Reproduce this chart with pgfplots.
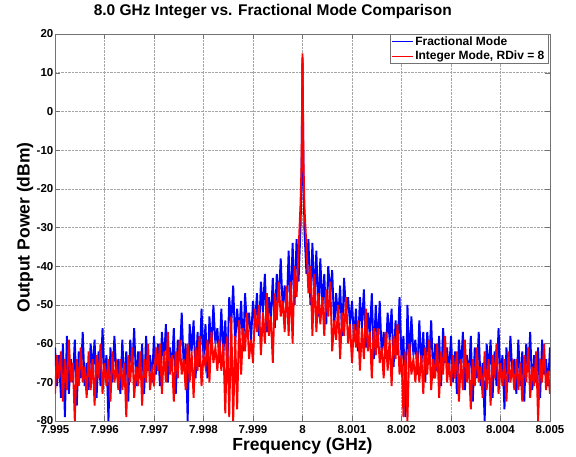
\documentclass[border=0pt]{standalone}
\usepackage{fontspec}
\setmainfont{Liberation Sans}
\usepackage{pgfplots}
\usepackage{pgfplotstable}
\pgfplotsset{compat=1.18}
\pgfplotstableread{
f frac int
7.99500 -61 -73
7.99504 -71 -63
7.99508 -63 -69
7.99512 -74 -62
7.99516 -60 -75
7.99520 -79 -64
7.99524 -58 -72
7.99528 -73 -59
7.99532 -64 -70
7.99536 -70 -65
7.99540 -59 -80
7.99544 -76 -64
7.99548 -62 -71
7.99552 -69 -61
7.99556 -57 -70
7.99560 -71 -66
7.99564 -65 -74
7.99568 -72 -62
7.99572 -60 -72
7.99576 -67 -64
7.99580 -59 -76
7.99584 -74 -63
7.99588 -62 -69
7.99592 -71 -60
7.99596 -56 -73
7.99600 -69 -65
7.99604 -63 -71
7.99608 -80 -64
7.99612 -61 -75
7.99616 -70 -62
7.99620 -58 -70
7.99624 -68 -66
7.99628 -64 -72
7.99632 -73 -64
7.99636 -59 -72
7.99640 -71 -65
7.99644 -62 -79
7.99648 -75 -63
7.99652 -59 -70
7.99656 -66 -61
7.99660 -56 -74
7.99664 -71 -66
7.99668 -62 -71
7.99672 -69 -62
7.99676 -60 -76
7.99680 -73 -64
7.99684 -58 -70
7.99688 -67 -60
7.99692 -63 -72
7.99696 -70 -67
7.99700 -58 -71
7.99704 -68 -61
7.99708 -60 -67
7.99712 -71 -60
7.99716 -57 -73
7.99720 -65 -62
7.99724 -55 -70
7.99728 -70 -57
7.99732 -61 -68
7.99736 -67 -63
7.99740 -56 -75
7.99744 -73 -62
7.99748 -59 -69
7.99752 -64 -59
7.99756 -52 -68
7.99760 -66 -64
7.99764 -60 -72
7.99768 -80 -60
7.99772 -55 -70
7.99776 -62 -62
7.99780 -54 -74
7.99784 -69 -61
7.99788 -57 -67
7.99792 -66 -58
7.99796 -51 -71
7.99800 -64 -63
7.99804 -55 -66
7.99808 -69 -59
7.99812 -53 -70
7.99816 -62 -57
7.99820 -50 -65
7.99824 -60 -61
7.99828 -56 -67
7.99832 -65 -59
7.99836 -51 -67
7.99840 -63 -60
7.99844 -54 -78
7.99848 -67 -58
7.99852 -48 -79
7.99856 -55 -53
7.99860 -45 -80
7.99864 -60 -58
7.99868 -51 -77
7.99872 -58 -54
7.99876 -49 -68
7.99880 -62 -56
7.99884 -47 -62
7.99888 -56 -52
7.99892 -52 -64
7.99896 -59 -59
7.99900 -49 -65
7.99904 -55 -51
7.99908 -47 -57
7.99912 -58 -50
7.99916 -44 -63
7.99920 -52 -52
7.99924 -42 -60
7.99928 -57 -47
7.99932 -48 -58
7.99936 -54 -53
7.99940 -43 -65
7.99944 -56 -47
7.99948 -42 -54
7.99952 -49 -44
7.99956 -38 -53
7.99960 -51 -49
7.99964 -45 -57
7.99968 -52 -45
7.99972 -36 -58
7.99976 -52 -44
7.99980 -34 -60
7.99984 -50 -40
7.99988 -33 -48
7.99992 -44 -36
7.99996 -30 -24
7.99998 -18 -14
8.00000 14 15
8.00002 -16 -13
8.00004 -31 -25
8.00008 -42 -35
8.00012 -33 -47
8.00016 -50 -40
8.00020 -34 -58
8.00024 -49 -42
8.00028 -36 -57
8.00032 -53 -47
8.00036 -38 -55
8.00040 -51 -48
8.00044 -42 -58
8.00048 -55 -46
8.00052 -40 -53
8.00056 -47 -44
8.00060 -41 -62
8.00064 -56 -54
8.00068 -47 -59
8.00072 -54 -50
8.00076 -45 -64
8.00080 -58 -52
8.00084 -43 -58
8.00088 -52 -48
8.00092 -48 -60
8.00096 -55 -55
8.00100 -49 -65
8.00104 -59 -55
8.00108 -51 -61
8.00112 -62 -54
8.00116 -48 -67
8.00120 -56 -56
8.00124 -46 -64
8.00128 -61 -51
8.00132 -52 -62
8.00136 -58 -57
8.00140 -47 -69
8.00144 -64 -56
8.00148 -50 -63
8.00152 -61 -56
8.00156 -49 -65
8.00160 -63 -61
8.00164 -57 -69
8.00168 -64 -57
8.00172 -52 -67
8.00176 -59 -59
8.00180 -51 -71
8.00184 -66 -58
8.00188 -54 -64
8.00192 -63 -55
8.00196 -48 -68
8.00200 -64 -63
8.00204 -58 -79
8.00208 -79 -62
8.00212 -50 -80
8.00216 -65 -60
8.00220 -53 -68
8.00224 -63 -64
8.00228 -59 -70
8.00232 -68 -62
8.00236 -54 -70
8.00240 -66 -63
8.00244 -57 -73
8.00248 -70 -61
8.00252 -57 -68
8.00256 -64 -59
8.00260 -54 -72
8.00264 -69 -64
8.00268 -60 -69
8.00272 -67 -60
8.00276 -58 -74
8.00280 -71 -62
8.00284 -56 -68
8.00288 -65 -58
8.00292 -61 -70
8.00296 -68 -65
8.00300 -58 -71
8.00304 -70 -63
8.00308 -62 -69
8.00312 -73 -62
8.00316 -59 -75
8.00320 -67 -64
8.00324 -57 -72
8.00328 -72 -59
8.00332 -63 -70
8.00336 -69 -65
8.00340 -58 -77
8.00344 -75 -64
8.00348 -61 -71
8.00352 -69 -61
8.00356 -57 -70
8.00360 -71 -66
8.00364 -65 -74
8.00368 -80 -62
8.00372 -60 -72
8.00376 -67 -64
8.00380 -59 -76
8.00384 -74 -63
8.00388 -62 -69
8.00392 -71 -60
8.00396 -56 -73
8.00400 -69 -65
8.00404 -63 -71
8.00408 -77 -64
8.00412 -61 -75
8.00416 -70 -62
8.00420 -58 -70
8.00424 -68 -66
8.00428 -64 -72
8.00432 -73 -64
8.00436 -59 -72
8.00440 -71 -65
8.00444 -62 -75
8.00448 -75 -63
8.00452 -60 -70
8.00456 -67 -61
8.00460 -57 -74
8.00464 -72 -66
8.00468 -63 -71
8.00472 -70 -62
8.00476 -61 -80
8.00480 -74 -64
8.00484 -59 -70
8.00488 -68 -60
8.00492 -64 -72
8.00496 -71 -67
8.00500 -61 -73
}\spec

\begin{document}
\begin{tikzpicture}
\begin{axis}[
  at={(0,0)}, anchor=south west,
  scale only axis, width=495pt, height=387pt,
  xmin=7.995, xmax=8.005, ymin=-80, ymax=20,
  xtick={7.995,7.996,7.997,7.998,7.999,8,8.001,8.002,8.003,8.004,8.005},
  xticklabels={7.995,7.996,7.997,7.998,7.999,8,8.001,8.002,8.003,8.004,8.005},
  ytick={-80,-70,-60,-50,-40,-30,-20,-10,0,10,20},
  yticklabels={-80,-70,-60,-50,-40,-30,-20,-10,0,10,20},
  scaled x ticks=false,
  /pgf/number format/assume math mode=true,
  ticklabel style={font=\fontsize{11.5}{13}\selectfont\bfseries},
  xticklabel style={inner sep=4pt},
  yticklabel style={inner sep=1.5pt},
  axis line style={black!55},
  tick style={black!55},
  major tick length=5pt,
  tick align=inside,
  xtick pos=both, ytick pos=both,
  grid=major,
  major grid style={densely dotted, black!35},
  title={8.0 GHz Integer vs. Fractional Mode Comparison},
  title style={at={(0.44,1.031)}, anchor=base, font=\fontsize{15.5}{18}\selectfont\bfseries},
  xlabel={Frequency (GHz)},
  xlabel style={at={(axis description cs:0.5,-0.0775)}, anchor=base, font=\fontsize{17.5}{20}\selectfont\bfseries},
  ylabel={Output Power (dBm)},
  ylabel style={at={(axis description cs:-0.0606,0.5)}, anchor=center, font=\fontsize{17.5}{20}\selectfont\bfseries},
  legend style={at={(1,1)}, anchor=north east, xshift=-2pt, draw=black!55, fill=white,
    font=\fontsize{12}{14}\selectfont\bfseries, inner xsep=2pt, inner ysep=1pt,
    nodes={inner sep=1.5pt}, row sep=1pt, cells={anchor=west}},
  legend image code/.code={\draw[#1] (0pt,0pt) -- (21pt,0pt);},
]
\addplot[blue, line width=1.9pt, forget plot] table[x=f, y=frac] {\spec};
\addplot[red, line width=1.9pt, forget plot] table[x=f, y=int] {\spec};
\addlegendimage{draw=blue, line width=0.8pt}
\addlegendentry{Fractional Mode}
\addlegendimage{draw=red, line width=0.8pt}
\addlegendentry{Integer Mode, RDiv = 8}
\end{axis}
\pgfresetboundingbox
\path (-55pt,-36pt) rectangle (521pt,421pt);
\end{tikzpicture}
\end{document}
